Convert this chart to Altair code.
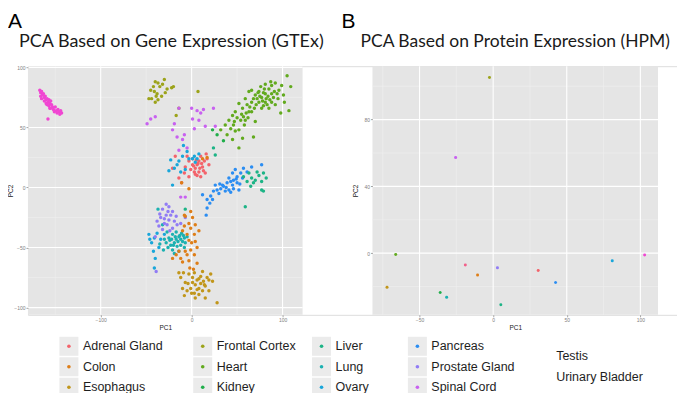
import altair as alt
import pandas as pd

# ---------------- categories & colours ----------------
TISSUES = ["Adrenal Gland", "Colon", "Esophagus", "Frontal Cortex", "Heart", "Kidney",
           "Liver", "Lung", "Ovary", "Pancreas", "Prostate Gland", "Spinal Cord",
           "Testis", "Urinary Bladder"]
COLORS = ["#F3636B", "#DE7E18", "#C1961B", "#9CA31A", "#62AA1E", "#20AE4A",
          "#1DB486", "#1CB1B1", "#19A6DA", "#2B8DF2", "#917CF5", "#C861F0",
          "#F046D2", "#F2608A"]

# ---------------- Panel A: GTEx PCA (PC1, PC2) per tissue ----------------
GTEX_TESTIS = [(-167, 81), (-166, 79), (-165, 80), (-164, 77), (-166, 76), (-163, 78), (-162, 75),
               (-161, 76), (-160, 73), (-162, 72), (-159, 74), (-158, 71), (-157, 73), (-159, 69),
               (-156, 70), (-155, 72), (-157, 68), (-154, 69), (-153, 67), (-155, 66), (-152, 65),
               (-150, 67), (-149, 64), (-147, 65), (-146, 63), (-144, 64), (-143, 62), (-148, 62),
               (-158, 57), (-165, 74), (-160, 70), (-156, 66), (-151, 63), (-145, 61)]
GTEX_HEART = [(63, 80), (66, 81), (70, 77), (74, 80), (77, 75), (81, 78), (85, 82), (88, 85), (92, 87),
              (96, 81), (99, 85), (101, 77), (105, 93), (109, 84), (107, 64), (98, 62), (88, 71),
              (81, 71), (74, 71), (66, 71), (61, 69), (56, 66), (52, 70), (48, 63), (45, 60), (41, 56),
              (37, 52), (43, 49), (48, 47), (54, 56), (59, 56), (56, 41), (52, 33), (68, 42), (70, 55),
              (77, 66), (85, 66), (92, 69), (66, 63), (59, 74), (76, 84), (81, 86), (87, 88), (94, 78),
              (79, 68), (46, 52), (52, 48), (39, 44), (45, 40), (32, 48), (63, 63), (57, 59), (72, 74),
              (75, 76), (78, 72), (82, 74), (84, 76), (86, 73), (79, 79), (71, 69), (68, 74), (88, 78),
              (90, 75), (83, 69), (64, 67), (60, 62), (55, 61), (50, 58), (47, 55), (58, 52), (62, 58),
              (73, 79), (69, 66), (80, 82), (91, 80), (95, 74), (102, 71)]
GTEX_FRONTAL = [(-40, 88), (-37, 87), (-30, 90), (-32, 86), (-27, 82), (-22, 83), (-45, 81), (-41, 80),
                (-38, 78), (-44, 74), (-40, 71), (-37, 73), (-47, 74), (-33, 76), (-35, 84), (-42, 84),
                (-29, 79), (-20, 84), (7, 80), (-14, 66), (-17, 60), (-39, 76)]
GTEX_SPINAL = [(-45, 57), (-40, 59), (-49, 53), (-21, 48), (-19, 53), (-8, 44), (-14, 66), (0, 66),
               (6, 64), (13, 65), (24, 66), (1, 57), (8, 56), (3, 49), (15, 51), (26, 51), (-14, 31),
               (-5, 33), (-7, -8), (-12, -8), (-16, 42), (-10, 40), (10, 62)]
GTEX_ADRENAL = [(6, 19), (8, 22), (4, 16), (12, 17), (1, 24), (-3, 22), (-7, 17), (-8, 12), (15, 12),
                (17, 24), (10, 26), (3, 13), (-1, 15), (14, 22), (8, 13), (4, 11), (-5, 26), (10, 9),
                (19, 19), (-11, 4), (1, 19), (5, 23), (9, 16), (7, 20), (11, 20), (2, 18), (13, 14),
                (6, 10), (-21, 16), (-18, 26), (-14, 8), (16, 28), (-3, 9)]
GTEX_OVARY = [(-23, 23), (-19, 16), (-14, 22), (-10, 26), (-7, 15), (1, 24), (-3, 24), (3, 26), (6, 24),
              (-12, 13), (-21, 2), (-9, 35), (-5, 30), (-16, 19), (-25, 14), (-47, -39), (-41, -42),
              (-38, -38), (-42, -53), (-40, -59), (-41, -67), (-34, -43), (-30, -39), (-44, -46),
              (-36, -50), (-46, -43), (4, 21), (8, 28)]
GTEX_LUNG = [(-25, -42), (-21, -39), (-17, -43), (-14, -41), (-10, -45), (-19, -46), (-23, -48),
             (-16, -49), (-12, -48), (-8, -42), (-27, -37), (-28, -46), (-7, -46), (-17, -37),
             (-21, -52), (-14, -53), (-11, -38), (-30, -43), (-24, -44), (-15, -45), (-18, -41),
             (-22, -43), (-12, -43), (-8, -50), (-5, -41), (-32, -31), (-37, -18), (-20, -48),
             (-13, -40), (-26, -50), (-9, -40), (-19, -55), (-35, -47), (-31, -52)]
GTEX_PROSTATE = [(-28, -14), (-25, -16), (-32, -18), (-21, -20), (-28, -23), (-34, -25), (-25, -27),
                 (-30, -30), (-19, -28), (-27, -31), (-17, -24), (-23, -23), (-32, -35), (-36, -32),
                 (-16, -31), (-21, -34), (-7, -25), (-26, -20), (-30, -26), (-38, -28), (-35, -22),
                 (-24, -36), (-40, -41), (-39, -70), (-12, -30)]
GTEX_COLON = [(-7, -24), (-3, -30), (-8, -32), (-1, -34), (3, -39), (-5, -39), (4, -45), (-1, -52),
              (-7, -53), (3, -56), (-12, -59), (-3, -61), (6, -63), (-17, -56), (-21, -59), (-10, -36),
              (1, -25), (4, -31), (-1, -20), (8, -36), (-8, -23), (-14, -53), (-5, -56), (0, -46),
              (-3, -44), (6, -50), (-10, -62), (12, 24), (17, 25), (-11, 4), (-3, -1), (-2, -67),
              (2, -68)]
GTEX_ESOPHAGUS = [(1, -75), (6, -77), (10, -74), (13, -78), (4, -81), (-1, -84), (8, -84), (12, -86),
                  (15, -82), (-7, -79), (-10, -84), (-5, -86), (3, -88), (8, -89), (17, -75), (21, -72),
                  (23, -78), (-12, -75), (-8, -90), (15, -92), (28, -96), (3, -71), (-3, -72), (12, -70),
                  (19, -86), (4, -92), (-14, -71), (10, -80), (6, -85), (1, -79), (-4, -80), (8, -76),
                  (14, -81), (19, -77), (0, -88), (-9, -71)]
GTEX_PANCREAS = [(17, -10), (21, -7), (24, -3), (28, -2), (32, -1), (35, 1), (39, 4), (43, 5), (46, 6),
                 (50, 9), (54, 12), (57, 16), (66, 17), (77, 19), (45, 12), (48, 15), (52, -2), (46, -1),
                 (41, -2), (34, 2), (30, -5), (23, -10), (17, -17), (16, -23), (45, 2), (50, 4), (56, 8),
                 (37, -3), (26, 2), (12, -6), (41, 8), (61, 13), (38, 0), (43, -4), (49, 7), (31, 3),
                 (20, -13), (53, 3)]
GTEX_LIVER = [(63, 12), (66, 8), (70, 6), (74, 10), (77, 5), (68, 4), (61, 5), (79, 12), (57, 9),
              (59, -16), (77, -2), (79, -3), (24, 33), (26, 27), (-7, -18), (72, 13), (65, 1), (82, 8)]
GTEX_KIDNEY = [(28, 44), (23, 48), (35, 39)]

GTEX_GROUPS = {
    "Testis": GTEX_TESTIS, "Heart": GTEX_HEART, "Frontal Cortex": GTEX_FRONTAL,
    "Spinal Cord": GTEX_SPINAL, "Adrenal Gland": GTEX_ADRENAL, "Ovary": GTEX_OVARY,
    "Lung": GTEX_LUNG, "Prostate Gland": GTEX_PROSTATE, "Colon": GTEX_COLON,
    "Esophagus": GTEX_ESOPHAGUS, "Pancreas": GTEX_PANCREAS, "Liver": GTEX_LIVER,
    "Kidney": GTEX_KIDNEY,
}

# ---------------- Panel B: HPM PCA, one sample per tissue ----------------
HPM_TISSUE = ["Adrenal Gland", "Colon", "Esophagus", "Frontal Cortex", "Heart", "Kidney", "Liver",
              "Lung", "Ovary", "Pancreas", "Prostate Gland", "Spinal Cord", "Testis", "Urinary Bladder"]
HPM_PC1 = [30.6, -10.6, -72.1, -2.5, -66.2, -36.0, 5.2, -31.6, 80.9, 42.4, 2.9, -25.5, 102.9, -18.9]
HPM_PC2 = [-10.4, -13.1, -20.5, 105.3, -0.8, -23.6, -30.9, -26.5, -4.6, -17.6, -8.8, 57.3, -1.2, -7.2]

# ---------------- axes ----------------
A_X_DOMAIN = [-180, 122]
A_Y_DOMAIN = [-106, 101]
A_X_MAJOR = [-100, 0, 100]
A_X_MINOR = [-150, -50, 50]
A_Y_MAJOR = [-100, -50, 0, 50, 100]
A_Y_MINOR = [-75, -25, 25, 75]
B_X_DOMAIN = [-82, 112]
B_Y_DOMAIN = [-37, 112]
B_X_MAJOR = [-50, 0, 50, 100]
B_X_MINOR = [-75, -25, 25, 75]
B_Y_MAJOR = [0, 40, 80]
B_Y_MINOR = [-20, 20, 60, 100]

TITLE_A = "PCA Based on Gene Expression (GTEx)"
TITLE_B = "PCA Based on Protein Expression (HPM)"
AXIS_X_TITLE = "PC1"
AXIS_Y_TITLE = "PC2"

LEGEND_KEYED = TISSUES[:12]
LEGEND_TEXT_ONLY = ["Testis", "Urinary Bladder"]

# ---------------- layout (pixels, relative to plot origin) ----------------
PLOT_H = 249
A_RANGE = [0, 275]
B_RANGE = [345, 631]
LEGEND_COL_X = [41, 175, 294, 390]
LEGEND_ROW_Y = [280.5, 301, 321.5]
LEGEND_TEXT_ONLY_X = 529
LEGEND_TEXT_ONLY_Y = [290, 311]

color_enc = alt.Color("tissue:N", scale=alt.Scale(domain=TISSUES, range=COLORS), legend=None)

GREY = "#7F7F7F"
FONT = "Liberation Sans"


def axis(title, values, orient, offset=0):
    extra = {"titleX": -14} if orient == "left" else {}
    return alt.Axis(values=values, title=title, orient=orient, offset=offset, grid=False, domain=False,
                    ticks=True, tickSize=2, tickColor=GREY, tickWidth=0.7, labelFontSize=5,
                    labelColor=GREY, labelFont=FONT, labelPadding=1, titleFont=FONT, titleFontSize=6.5,
                    titleFontWeight="normal", titleColor="#222222", titlePadding=2, labelFlush=False,
                    zindex=1, **extra)


def panel_layers(points, xdom, ydom, xrange, xmaj, xmin, ymaj, ymin, y_offset, pt_size):
    xs = alt.Scale(domain=xdom, range=xrange, nice=False, zero=False)
    ys = alt.Scale(domain=ydom, range=[PLOT_H, 0], nice=False, zero=False)
    bgdf = pd.DataFrame({"x0": [xdom[0]], "x1": [xdom[1]], "y0": [ydom[0]], "y1": [ydom[1]]})
    bg = alt.Chart(bgdf).mark_rect(color="#E5E5E5").encode(
        x=alt.X("x0:Q", scale=xs, axis=axis(AXIS_X_TITLE, xmaj, "bottom")),
        x2="x1",
        y=alt.Y("y0:Q", scale=ys, axis=axis(AXIS_Y_TITLE, ymaj, "left", y_offset)),
        y2="y1",
    )

    def vrules(vals, col, w):
        df = pd.DataFrame({"v": vals, "y0": [ydom[0]] * len(vals), "y1": [ydom[1]] * len(vals)})
        return alt.Chart(df).mark_rule(color=col, strokeWidth=w).encode(
            x=alt.X("v:Q", scale=xs, axis=None),
            y=alt.Y("y0:Q", scale=ys, axis=None), y2="y1")

    def hrules(vals, col, w):
        df = pd.DataFrame({"v": vals, "x0": [xdom[0]] * len(vals), "x1": [xdom[1]] * len(vals)})
        return alt.Chart(df).mark_rule(color=col, strokeWidth=w).encode(
            y=alt.Y("v:Q", scale=ys, axis=None),
            x=alt.X("x0:Q", scale=xs, axis=None), x2="x1")

    pts = alt.Chart(points).mark_circle(size=pt_size, opacity=1).encode(
        x=alt.X("pc1:Q", scale=xs, axis=None),
        y=alt.Y("pc2:Q", scale=ys, axis=None),
        color=color_enc,
    )
    return [bg, vrules(xmin, "#F0F0F0", 0.6), hrules(ymin, "#F0F0F0", 0.6),
            vrules(xmaj, "white", 1.1), hrules(ymaj, "white", 1.1), pts]


rows = []
for t, pts in GTEX_GROUPS.items():
    for x, y in pts:
        rows.append({"tissue": t, "pc1": x, "pc2": y})
gtex_df = pd.DataFrame(rows)
hpm_df = pd.DataFrame({"tissue": HPM_TISSUE, "pc1": HPM_PC1, "pc2": HPM_PC2})

layers_a = panel_layers(gtex_df, A_X_DOMAIN, A_Y_DOMAIN, A_RANGE, A_X_MAJOR, A_X_MINOR,
                        A_Y_MAJOR, A_Y_MINOR, 0, 12)
layers_b = panel_layers(hpm_df, B_X_DOMAIN, B_Y_DOMAIN, B_RANGE, B_X_MAJOR, B_X_MINOR,
                        B_Y_MAJOR, B_Y_MINOR, -B_RANGE[0], 9)

# ---------------- custom legend ----------------
leg_df = pd.DataFrame({
    "tissue": LEGEND_KEYED,
    "kx": [LEGEND_COL_X[i // 3] for i in range(len(LEGEND_KEYED))],
    "ky": [LEGEND_ROW_Y[i % 3] for i in range(len(LEGEND_KEYED))],
})
lx = alt.Scale(domain=[0, 650], range=[0, 650], nice=False, zero=False)
ly = alt.Scale(domain=[0, 385], range=[0, 385], nice=False, zero=False)
keys = alt.Chart(leg_df).mark_square(size=361, color="#EBEBEB", opacity=1).encode(
    x=alt.X("kx:Q", scale=lx, axis=None), y=alt.Y("ky:Q", scale=ly, axis=None))
dots = alt.Chart(leg_df).mark_circle(size=13, opacity=1).encode(
    x=alt.X("kx:Q", scale=lx, axis=None), y=alt.Y("ky:Q", scale=ly, axis=None), color=color_enc)
labels = alt.Chart(leg_df).mark_text(align="left", baseline="middle", dx=14, fontSize=12.5,
                                     font=FONT, color="#1E1E1E").encode(
    x=alt.X("kx:Q", scale=lx, axis=None), y=alt.Y("ky:Q", scale=ly, axis=None), text="tissue:N")
extra_df = pd.DataFrame({"tissue": LEGEND_TEXT_ONLY,
                         "kx": [LEGEND_TEXT_ONLY_X] * len(LEGEND_TEXT_ONLY),
                         "ky": LEGEND_TEXT_ONLY_Y})
extra = alt.Chart(extra_df).mark_text(align="left", baseline="middle", fontSize=12.5,
                                      font=FONT, color="#1E1E1E").encode(
    x=alt.X("kx:Q", scale=lx, axis=None), y=alt.Y("ky:Q", scale=ly, axis=None), text="tissue:N")

# ---------------- panel letters & titles ----------------
one = pd.DataFrame({"a": [0]})
letter_a = alt.Chart(one).mark_text(text="A", align="left", baseline="alphabetic", fontSize=21,
                                    font=FONT, color="black").encode(x=alt.value(-20), y=alt.value(-38.5))
letter_b = alt.Chart(one).mark_text(text="B", align="left", baseline="alphabetic", fontSize=21,
                                    font=FONT, color="black").encode(x=alt.value(314), y=alt.value(-38.5))
title_a = alt.Chart(one).mark_text(text=TITLE_A, align="left", baseline="alphabetic", fontSize=18,
                                   font="Lato", color="#1A1A1A").encode(x=alt.value(-9), y=alt.value(-19))
title_b = alt.Chart(one).mark_text(text=TITLE_B, align="left", baseline="alphabetic", fontSize=17.5,
                                   font="Lato", color="#1A1A1A").encode(x=alt.value(333), y=alt.value(-19))

chart = alt.layer(
    *layers_a, *layers_b, keys, dots, labels, extra, letter_a, letter_b, title_a, title_b
).resolve_scale(
    x="independent", y="independent"
).properties(
    width=650, height=PLOT_H,
    autosize=alt.AutoSizeParams(type="none"),
    padding={"left": 20, "top": 58, "right": 0, "bottom": 78},
).configure_view(stroke=None).configure(background="white")

chart.save("out.html", embed_options={"renderer": "svg", "actions": False})
